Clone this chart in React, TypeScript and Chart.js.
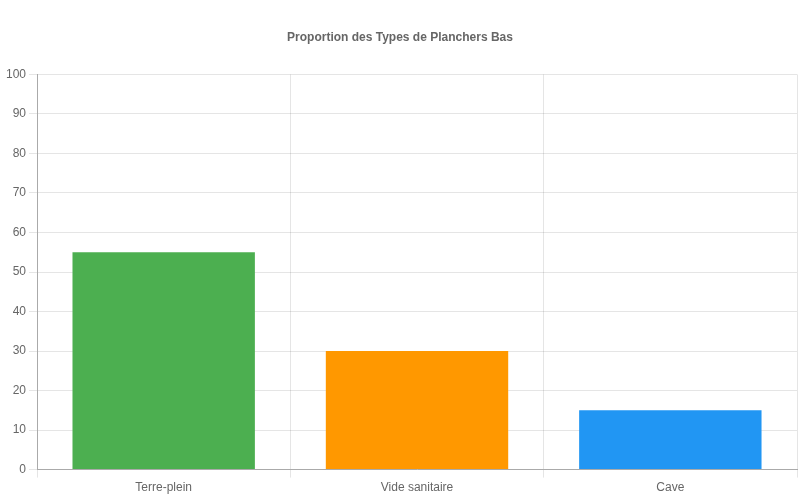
import React, { useEffect, useRef } from "react";
import { Chart, registerables } from "chart.js";

Chart.register(...registerables);

const categories = ["Terre-plein", "Vide sanitaire", "Cave"];
const values = [55, 30, 15];
const barColors = ["#4CAF50", "#FF9800", "#2196F3"];
const titleText = "Proportion des Types de Planchers Bas";

export default function App() {
  const ref = useRef<HTMLCanvasElement | null>(null);

  useEffect(() => {
    if (!ref.current) return;
    const chart = new Chart(ref.current, {
      type: "bar",
      data: {
        labels: categories,
        datasets: [
          {
            label: "Proportion",
            data: values,
            backgroundColor: barColors,
            borderWidth: 0,
          },
        ],
      },
      options: {
        animation: false,
        responsive: false,
        maintainAspectRatio: false,
        layout: { padding: { left: 3, right: 3, top: 0, bottom: 2 } },
        plugins: {
          legend: { display: false },
          tooltip: { enabled: false },
          title: {
            display: true,
            text: titleText,
            color: "#666",
            font: { size: 12, weight: "bold", family: "'Liberation Sans', Arial, sans-serif" },
            padding: { top: 30, bottom: 30 },
          },
        },
        scales: {
          x: {
            grid: { color: "rgba(0,0,0,0.1)", tickLength: 8 },
            border: { color: "#aaa" },
            ticks: { color: "#666", font: { size: 12, family: "'Liberation Sans', Arial, sans-serif" } },
          },
          y: {
            min: 0,
            max: 100,
            ticks: { stepSize: 10, color: "#666", font: { size: 12, family: "'Liberation Sans', Arial, sans-serif" } },
            grid: { color: "rgba(0,0,0,0.1)", tickLength: 8 },
            border: { color: "#aaa" },
          },
        },
      },
    });
    return () => chart.destroy();
  }, []);

  return (
    <div style={{ position: "absolute", left: 0, top: 0, width: 800, height: 500 }}>
      <canvas ref={ref} width={800} height={500} style={{ width: 800, height: 500 }} />
    </div>
  );
}
